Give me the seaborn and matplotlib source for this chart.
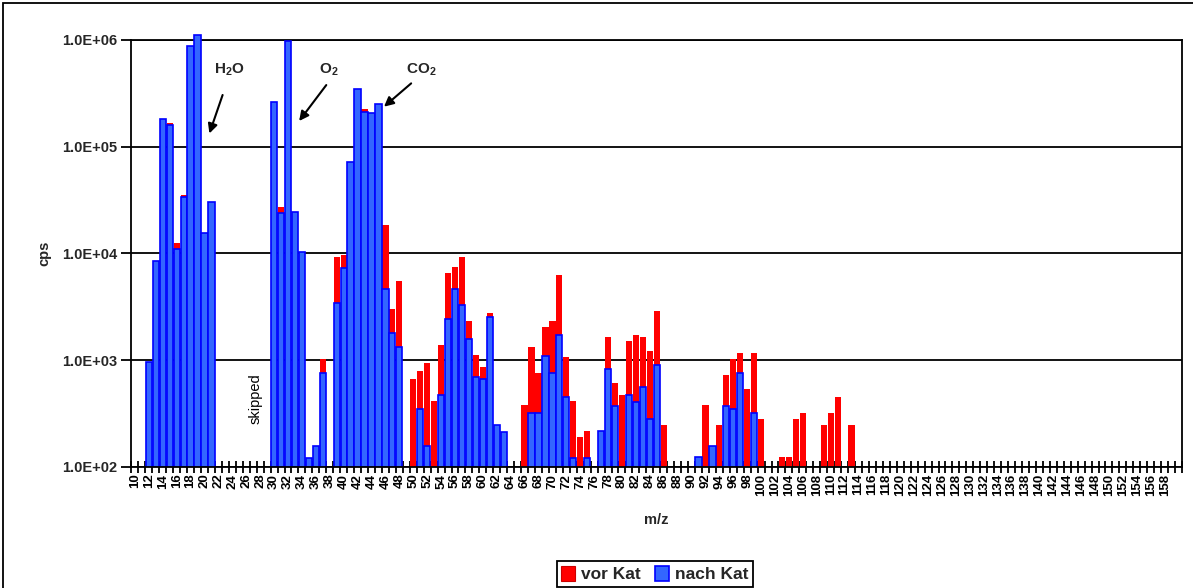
import numpy as np
import pandas as pd
import matplotlib
matplotlib.use("Agg")
import matplotlib.pyplot as plt
import seaborn as sns
from matplotlib.patches import Patch, Rectangle
from matplotlib.transforms import Bbox, TransformedBbox
from matplotlib.ticker import FixedLocator, NullLocator, FuncFormatter

# ---------------- data ----------------
mz_range = list(range(10, 161))
mz = [12, 13, 14, 15, 16, 17, 18, 19, 20, 21,
      30, 31, 32, 33, 34, 35, 36, 37, 39, 40,
      41, 42, 43, 44, 45, 46, 47, 48, 50, 51,
      52, 53, 54, 55, 56, 57, 58, 59, 60, 61,
      62, 63, 66, 67, 68, 69, 70, 71, 72, 73,
      74, 75, 77, 78, 79, 80, 81, 82, 83, 84,
      85, 86, 91, 92, 93, 94, 95, 96, 97, 98,
      99, 100, 103, 104, 105, 106, 109, 110, 111, 113]
vor_kat = [950, 8400, 180000, 165000, 12400, 35200, 883000, 1110000, 15400, 30500,
           264000, 27400, 977000, 24500, 10400, 121, 157, 1020, 9160, 9630,
           72100, 344000, 224000, 205000, 252000, 18400, 2990, 5500, 664, 789,
           944, 413, 1384, 6500, 7400, 9160, 2320, 1114, 855, 2740,
           246, 213, 379, 1315, 750, 2020, 2320, 6270, 1059, 413,
           189, 215, 215, 1634, 605, 470, 1507, 1715, 1634, 1214,
           2880, 246, 122, 379, 157, 246, 723, 1020, 1170, 535,
           1170, 280, 124, 124, 280, 318, 246, 318, 450, 246]
nan = np.nan
nach_kat = [950, 8400, 180000, 159000, 10900, 33500, 883000, 1110000, 15400, 30500,
            264000, 23700, 977000, 24500, 10400, 121, 157, 750, 3400, 7330,
            72100, 344000, 212000, 205000, 252000, 4600, 1780, 1315, nan, 345,
            157, nan, 470, 2400, 4600, 3260, 1575, 689, 664, 2510,
            246, 213, nan, 317, 317, 1097, 750, 1702, 447, 121,
            nan, 121, 215, 818, 373, nan, 465, 406, 555, 278,
            891, nan, 122, nan, 157, nan, 373, 345, 750, nan,
            317, nan, nan, nan, nan, nan, nan, nan, nan, nan]
tick_labels = [str(m) for m in range(10, 159, 2)]

df = pd.DataFrame({"mz": [str(m) for m in mz], "vor": vor_kat, "nach": nach_kat})
order = [str(m) for m in mz_range]

# ---------------- style ----------------
sns.set_theme(style="white")
plt.rcParams["font.family"] = ["Liberation Sans", "DejaVu Sans"]
plt.rcParams["mathtext.fontset"] = "custom"
plt.rcParams["mathtext.rm"] = "Liberation Sans:bold"
plt.rcParams["mathtext.it"] = "Liberation Sans:bold"
plt.rcParams["mathtext.bf"] = "Liberation Sans:bold"

RED = "#FF0000"
BLUE = "#3366FF"
BLUE_EDGE = "#0000FF"
YMIN, YMAX = 1e2, 1e6

fig = plt.figure(figsize=(11.93, 5.88), dpi=100)
ax = fig.add_axes([0.1102, 0.2063, 0.8806, 0.7257])

sns.barplot(data=df, x="mz", y="vor", order=order, color=RED, saturation=1,
            width=0.9, linewidth=0, errorbar=None, log_scale=True, ax=ax)
sns.barplot(data=df, x="mz", y="nach", order=order, color=BLUE, saturation=1,
            width=0.9, edgecolor=BLUE_EDGE, linewidth=1.2, errorbar=None,
            log_scale=True, ax=ax)

ax.set_xlim(-0.5, len(order) - 0.5)
ax.set_ylim(YMIN, YMAX)

# bars start at the axis floor; allow the tallest bar to poke slightly above
# the plot frame (as in the original)
clipbox = TransformedBbox(Bbox([[0, 0], [1, 1.03]]), ax.transAxes)
for p in ax.patches:
    top = p.get_y() + p.get_height()
    p.set_y(YMIN)
    p.set_height(top - YMIN)
    p.set_clip_path(None)
    p.set_clip_box(clipbox)

# grid & spines
ax.set_axisbelow(True)
ax.yaxis.grid(True, which="major", color="black", lw=1.3)
ax.xaxis.grid(False)
for name, s in ax.spines.items():
    s.set_visible(True)
    s.set_color("black")
    s.set_linewidth(1.3)
ax.spines["top"].set_zorder(0.5)

# y axis
ax.yaxis.set_major_locator(FixedLocator([1e2, 1e3, 1e4, 1e5, 1e6]))
ax.yaxis.set_minor_locator(NullLocator())
ax.yaxis.set_major_formatter(FuncFormatter(lambda v, pos: f"{v:.1E}"))
ax.tick_params(axis="y", which="major", direction="out", length=7, width=1.3,
               labelsize=10.5, pad=3, color="black", left=True)
for t in ax.get_yticklabels():
    t.set_fontweight("bold")

# x axis
ax.set_xticks(range(0, 149, 2))
ax.set_xticklabels(tick_labels, rotation=90, fontweight="bold", fontsize=9.5)
ax.set_xticks(np.arange(-0.5, len(order), 1.0), minor=True)
ax.tick_params(axis="x", which="major", length=0, pad=5, labelcolor="black")
ax.tick_params(axis="x", which="minor", direction="inout", length=8, width=1.3,
               color="black", bottom=True)

ax.set_xlabel("m/z", fontsize=10.5, fontweight="bold", labelpad=12)
ax.set_ylabel("cps", fontsize=10.5, fontweight="bold", labelpad=8)

# annotations
arrow_kw = dict(arrowstyle="-|>", lw=1.5, color="black", mutation_scale=14,
                shrinkA=0, shrinkB=0)
ax.text(13.5, 5.3e5, r"$\mathbf{H_2O}$", ha="center", va="center", fontsize=11)
ax.annotate("", xy=(10.7, 1.33e5), xytext=(12.6, 3.05e5), arrowprops=arrow_kw)
ax.text(27.9, 5.2e5, r"$\mathbf{O_2}$", ha="center", va="center", fontsize=11)
ax.annotate("", xy=(23.6, 1.74e5), xytext=(27.5, 3.78e5), arrowprops=arrow_kw)
ax.text(41.1, 5.3e5, r"$\mathbf{CO_2}$", ha="center", va="center", fontsize=11)
ax.annotate("", xy=(35.8, 2.37e5), xytext=(39.7, 3.92e5), arrowprops=arrow_kw)
ax.text(17.4, 430, "skipped", rotation=90, ha="center", va="center",
        fontsize=10.5, color="black")

# legend
handles = [Patch(facecolor=RED, edgecolor="#CC0000", lw=0.8),
           Patch(facecolor=BLUE, edgecolor=BLUE_EDGE, lw=1.2)]
leg = fig.legend(handles, ["vor Kat", "nach Kat"], loc="lower center",
                 bbox_to_anchor=(0.549, 0.002), ncol=2, frameon=True,
                 fancybox=False, edgecolor="black", framealpha=1,
                 prop=dict(weight="bold", size=12.5), handlelength=0.8,
                 handleheight=1.0, handletextpad=0.35, columnspacing=0.8,
                 borderpad=0.25, borderaxespad=0)
leg.get_frame().set_linewidth(1.3)

# outer chart border (left & top visible)
fig.patches.append(Rectangle((0.0025, -0.05), 1.2, 0.995 + 0.05,
                             transform=fig.transFigure, fill=False,
                             edgecolor="black", lw=1.3))

fig.savefig("out.png", dpi=100)
